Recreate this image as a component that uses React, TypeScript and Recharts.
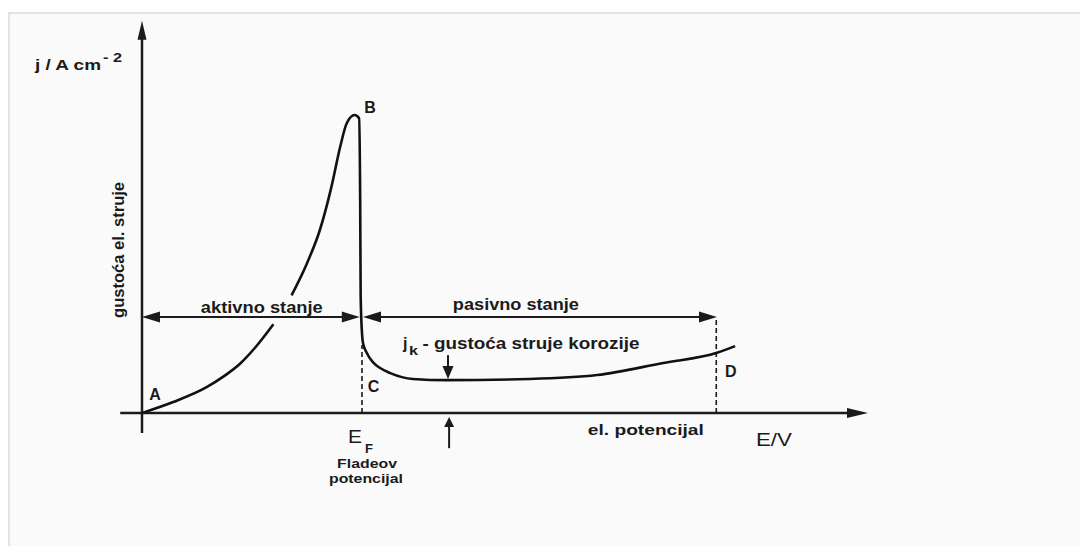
import React from 'react';
import { LineChart, Line, XAxis, YAxis, ReferenceLine, ReferenceDot } from 'recharts';

// Potential (E, arbitrary units) and current density (j, arbitrary units).
// null = the curve is interrupted behind the "aktivno stanje" label in the original.
const potentialE = [0, 0.43, 0.89, 1.12, 1.35, 1.58, 1.81, 1.95, 2.06, 2.27, 2.45, 2.61, 2.73, 2.82, 2.93, 2.99, 3.005, 3.012, 3.03, 3.044, 3.095, 3.18, 3.28, 3.42, 3.73, 4.2, 5.34, 6.27, 7.18, 7.92, 8.17];
const currentJ = [0, 0.28, 0.66, 0.93, 1.26, 1.72, 2.27, null, 3.01, 3.82, 4.68, 5.79, 6.81, 7.41, 7.62, 7.54, 5.5, 3.0, 2.05, 1.79, 1.54, 1.3, 1.15, 1.02, 0.87, 0.84, 0.87, 0.97, 1.28, 1.54, 1.71];

// Characteristic potentials / levels
const fladePotential = 3.01; // E_F
const passiveStart = 3.044;
const passiveEnd = 7.91; // D
const regionLevel = 2.455;
const corrosionE = 4.215;
const corrosionLevel = 0.87;
const pointCLevel = 1.74;
const pointDLevel = 2.38;

const curve = potentialE.map((E, i) => ({ E, j: currentJ[i] }));

const FONT = '"Liberation Sans", Arial, Helvetica, sans-serif';
const INK = '#1b1b1b';
const PANEL = '#fafafa';

function headPoints(tx: number, ty: number, ux: number, uy: number, L: number, W: number) {
  const bx = tx - ux * L;
  const by = ty - uy * L;
  const nx = -uy;
  const ny = ux;
  return `${tx},${ty} ${bx + nx * W},${by + ny * W} ${bx - nx * W},${by - ny * W}`;
}

const arrowShape =
  (o: { start?: boolean; end?: boolean; L: number; W: number; sw: number }) =>
  (p: any) => {
    const { x1, y1, x2, y2 } = p;
    if ([x1, y1, x2, y2].some((v) => typeof v !== 'number' || isNaN(v))) return <g />;
    const dx = x2 - x1;
    const dy = y2 - y1;
    const len = Math.hypot(dx, dy) || 1;
    const ux = dx / len;
    const uy = dy / len;
    const sx = o.start ? x1 + ux * o.L * 0.6 : x1;
    const sy = o.start ? y1 + uy * o.L * 0.6 : y1;
    const ex = o.end ? x2 - ux * o.L * 0.6 : x2;
    const ey = o.end ? y2 - uy * o.L * 0.6 : y2;
    return (
      <g>
        <line x1={sx} y1={sy} x2={ex} y2={ey} stroke={INK} strokeWidth={o.sw} />
        {o.start && <polygon points={headPoints(x1, y1, -ux, -uy, o.L, o.W)} fill={INK} />}
        {o.end && <polygon points={headPoints(x2, y2, ux, uy, o.L, o.W)} fill={INK} />}
      </g>
    );
  };

type TextOpts = {
  size: number;
  weight?: string | number;
  anchor?: 'start' | 'middle' | 'end';
  length?: number;
  rotate?: boolean;
};

const textShape = (text: string, o: TextOpts) => (p: any) => {
  const { cx, cy } = p;
  if (typeof cx !== 'number' || typeof cy !== 'number') return <g />;
  return (
    <text
      x={cx}
      y={cy}
      fill={INK}
      fontFamily={FONT}
      fontSize={o.size}
      fontWeight={o.weight ?? 'bold'}
      textAnchor={o.anchor ?? 'middle'}
      transform={o.rotate ? `rotate(-90 ${cx} ${cy})` : undefined}
      {...(o.length ? { textLength: o.length, lengthAdjust: 'spacingAndGlyphs' } : {})}
    >
      {text}
    </text>
  );
};

const note = (key: string, E: number, j: number, shape: (p: any) => React.ReactElement) => (
  <ReferenceDot key={key} x={E} y={j} r={1} ifOverflow="visible" shape={shape} />
);

const unitShape = (p: any) => {
  const { cx, cy } = p;
  return (
    <g fill={INK} fontFamily={FONT} fontWeight="bold">
      <text x={cx} y={cy} fontSize={14.5} textLength={66} lengthAdjust="spacingAndGlyphs">
        j / A cm
      </text>
      <text x={cx + 68} y={cy - 8} fontSize={12} textLength={19} lengthAdjust="spacingAndGlyphs">
        - 2
      </text>
    </g>
  );
};

const jkShape = (p: any) => {
  const { cx, cy } = p;
  return (
    <g fill={INK} fontFamily={FONT} fontWeight="bold">
      <text x={cx} y={cy} fontSize={16}>j</text>
      <text x={cx + 6} y={cy + 6} fontSize={12} textLength={9} lengthAdjust="spacingAndGlyphs">k</text>
      <text x={cx + 19.5} y={cy} fontSize={16} textLength={217} lengthAdjust="spacingAndGlyphs">
        - gustoća struje korozije
      </text>
    </g>
  );
};

const efShape = (p: any) => {
  const { cx, cy } = p;
  return (
    <g fill={INK} fontFamily={FONT}>
      <text x={cx} y={cy} fontSize={19} textLength={14} lengthAdjust="spacingAndGlyphs">E</text>
      <text x={cx + 17} y={cy + 10} fontSize={12} fontWeight="bold" textLength={8} lengthAdjust="spacingAndGlyphs">F</text>
    </g>
  );
};

export default function App() {
  return (
    <div style={{ position: 'relative', width: 1080, height: 538, fontFamily: FONT }}>
      <div
        style={{
          position: 'absolute',
          left: 0,
          top: 4,
          right: -8,
          bottom: -8,
          background: PANEL,
          borderTop: '2px solid #e3e3e3',
          borderLeft: '2px solid #e3e3e3',
        }}
      />
      <div style={{ position: 'absolute', left: 0, top: 0 }}>
        <LineChart width={1072} height={530} data={curve} margin={{ top: 14, right: 212, bottom: 125, left: 134 }}>
          <XAxis type="number" dataKey="E" domain={[0, 10]} allowDataOverflow hide />
          <YAxis type="number" dataKey="j" domain={[0, 10]} allowDataOverflow hide />

          {/* axes */}
          <ReferenceLine
            segment={[{ x: 0, y: -0.51 }, { x: 0, y: 10.03 }]}
            ifOverflow="visible"
            shape={arrowShape({ end: true, L: 19, W: 4.5, sw: 2.5 })}
          />
          <ReferenceLine
            segment={[{ x: -0.3, y: 0 }, { x: 10, y: 0 }]}
            ifOverflow="visible"
            shape={arrowShape({ end: true, L: 21, W: 5, sw: 2.5 })}
          />

          {/* dashed markers at C and D */}
          <ReferenceLine
            segment={[{ x: fladePotential + 0.02, y: 0 }, { x: fladePotential + 0.02, y: pointCLevel }]}
            ifOverflow="visible"
            stroke={INK}
            strokeWidth={1.6}
            strokeDasharray="5 3"
          />
          <ReferenceLine
            segment={[{ x: passiveEnd, y: 0 }, { x: passiveEnd, y: pointDLevel }]}
            ifOverflow="visible"
            stroke={INK}
            strokeWidth={1.6}
            strokeDasharray="5 3"
          />

          {/* region arrows */}
          <ReferenceLine
            segment={[{ x: 0, y: regionLevel }, { x: fladePotential - 0.01, y: regionLevel }]}
            ifOverflow="visible"
            shape={arrowShape({ start: true, end: true, L: 18, W: 5.5, sw: 2 })}
          />
          <ReferenceLine
            segment={[{ x: passiveStart, y: regionLevel }, { x: passiveEnd + 0.01, y: regionLevel }]}
            ifOverflow="visible"
            shape={arrowShape({ start: true, end: true, L: 18, W: 5.5, sw: 2 })}
          />

          {/* corrosion current arrows */}
          <ReferenceLine
            segment={[{ x: corrosionE, y: 1.48 }, { x: corrosionE, y: corrosionLevel }]}
            ifOverflow="visible"
            shape={arrowShape({ end: true, L: 13, W: 5.5, sw: 2 })}
          />
          <ReferenceLine
            segment={[{ x: corrosionE + 0.015, y: -0.9 }, { x: corrosionE + 0.015, y: -0.1 }]}
            ifOverflow="visible"
            shape={arrowShape({ end: true, L: 10, W: 5, sw: 2 })}
          />

          <Line
            type="monotone"
            dataKey="j"
            stroke="#111"
            strokeWidth={2.6}
            dot={false}
            activeDot={false}
            connectNulls={false}
            isAnimationActive={false}
          />

          {note('unit', -1.474, 8.77, unitShape)}
          {note('ylabel', -0.241, 4.17, textShape('gustoća el. struje', { size: 16, rotate: true, length: 136 }))}
          {note('A', 0.179, 0.33, textShape('A', { size: 16 }))}
          {note('B', 3.14, 7.67, textShape('B', { size: 16 }))}
          {note('C', 3.19, 0.537, textShape('C', { size: 16 }))}
          {note('D', 8.11, 0.92, textShape('D', { size: 16 }))}
          {note('akt', 1.65, 2.556, textShape('aktivno stanje', { size: 16, length: 122 }))}
          {note('pas', 5.15, 2.63, textShape('pasivno stanje', { size: 16, length: 126 }))}
          {note('jk', 3.595, 1.637, jkShape)}
          {note('ef', 2.837, -0.767, efShape)}
          {note('flade', 3.1, -1.41, textShape('Fladeov', { size: 12.5, length: 60 }))}
          {note('pot', 3.085, -1.8, textShape('potencijal', { size: 12.5, length: 74 }))}
          {note('elpot', 6.94, -0.563, textShape('el. potencijal', { size: 15.5, length: 116 }))}
          {note('ev', 8.457, -0.844, textShape('E/V', { size: 19, weight: 'normal', anchor: 'start', length: 36 }))}
        </LineChart>
      </div>
    </div>
  );
}
